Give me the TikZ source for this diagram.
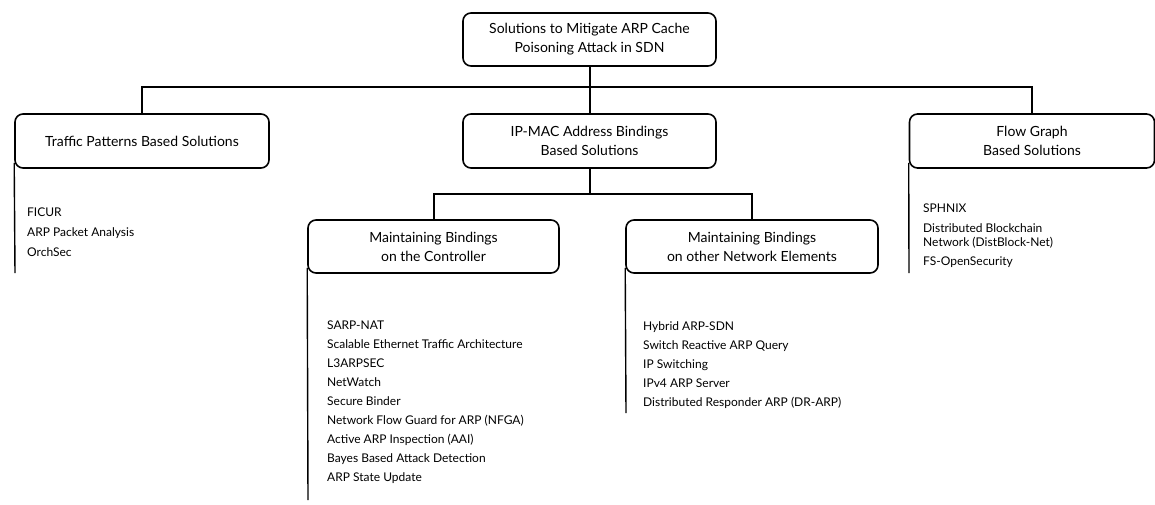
\documentclass[tikz,border=0pt]{standalone}
\usepackage{fontspec}
\setmainfont{Lato}
\begin{document}
\begin{tikzpicture}[x=1pt,y=-1pt,
  box/.style={draw, line width=1.6pt, rounded corners=8pt, align=center, inner sep=0pt,
    font=\fontsize{14}{19}\selectfont, text=black},
  conn/.style={line width=2pt},
  vline/.style={line width=1.4pt},
  item/.style={anchor=base west, inner sep=0pt, font=\fontsize{12}{14}\selectfont, text=black}]
\useasboundingbox (0,0) rectangle (1155,504);
% boxes
\node[box, minimum width=253pt, minimum height=53pt] (top) at (589.5,39.5) {Solutions to Mitigate ARP Cache\\Poisoning Attack in SDN};
\node[box, minimum width=254pt, minimum height=54pt] (left) at (142,141) {Traffic Patterns Based Solutions};
\node[box, minimum width=253pt, minimum height=54pt] (mid) at (589.5,141) {IP-MAC Address Bindings\\Based Solutions};
\node[box, minimum width=245pt, minimum height=54pt] (right) at (1032,141) {Flow Graph\\Based Solutions};
\node[box, minimum width=251pt, minimum height=53pt] (ctrl) at (433.5,246.5) {Maintaining Bindings\\on the Controller};
\node[box, minimum width=252pt, minimum height=53pt] (other) at (752,246.5) {Maintaining Bindings\\on other Network Elements};
% connectors
\coordinate (bus1) at (589.5,87);
\coordinate (bus2) at (589.5,194);
\draw[conn] (top.south) -- (mid.north);
\draw[conn] (left.north) |- (bus1) -| (right.north);
\draw[conn] (mid.south) -- (bus2);
\draw[conn] (ctrl.north) |- (bus2) -| (other.north);
% list rails
\coordinate (leftend) at (15,273);
\coordinate (rightend) at (909,273);
\coordinate (ctrlend) at (308,500);
\coordinate (otherend) at (626,413);
\draw[vline] ([yshift=6pt]left.south west) -- (leftend);
\draw[vline] ([yshift=6pt]right.south west) -- (rightend);
\draw[vline] ([yshift=6pt]ctrl.south west) -- (ctrlend);
\draw[vline] ([yshift=6pt]other.south west) -- (otherend);
% lists
\foreach [count=\i] \t in {FICUR, ARP Packet Analysis, OrchSec}
  \node[item] (tp\i) at (27,{216+(\i-1)*20}) {\t};
\node[item] (fg1) at (923,212) {SPHNIX};
\node[item] (fg2) at (923,232) {Distributed Blockchain};
\node[item] (fg3) at (923,246) {Network (DistBlock-Net)};
\node[item] (fg4) at (923,265) {FS-OpenSecurity};
\foreach [count=\i] \t in {SARP-NAT, Scalable Ethernet Traffic Architecture, L3ARPSEC, NetWatch, Secure Binder, Network Flow Guard for ARP (NFGA), Active ARP Inspection (AAI), Bayes Based Attack Detection, ARP State Update}
  \node[item] (ct\i) at (327,{329+(\i-1)*19.1}) {\t};
\foreach [count=\i] \t in {Hybrid ARP-SDN, Switch Reactive ARP Query, IP Switching, IPv4 ARP Server, Distributed Responder ARP (DR-ARP)}
  \node[item] (ne\i) at (643,{330+(\i-1)*19}) {\t};
\end{tikzpicture}
\end{document}
